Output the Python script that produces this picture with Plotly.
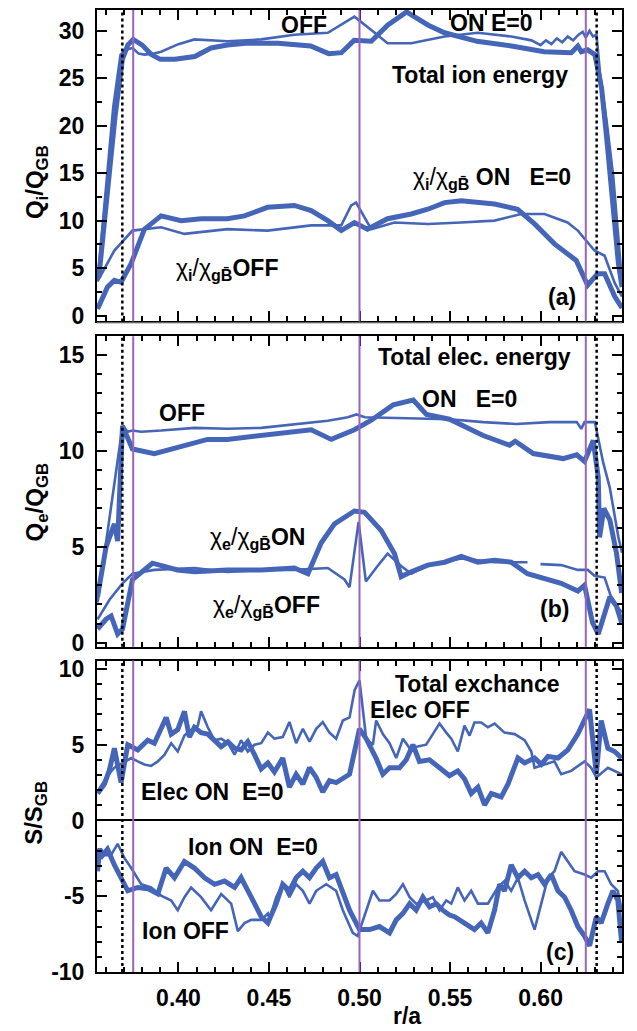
import plotly.graph_objects as go

# ---------------- data ----------------
# Panel (a): ion energy flux
ion_total_on = [(0.3560, 4.0), (0.3600, 12.0), (0.3650, 21.0), (0.3690, 27.0), (0.3720, 28.5), (0.3750, 29.1),
                (0.3800, 28.5), (0.3850, 27.5), (0.3900, 27.0), (0.3980, 27.0), (0.4090, 27.3), (0.4180, 28.2),
                (0.4270, 28.5), (0.4370, 28.7), (0.4550, 28.7), (0.4730, 28.4), (0.4830, 27.6), (0.4900, 27.7),
                (0.4970, 29.0), (0.5065, 28.9), (0.5155, 30.6), (0.5260, 32.0), (0.5380, 30.6), (0.5470, 29.8),
                (0.5650, 28.9), (0.5840, 28.4), (0.6020, 27.8), (0.6170, 27.7), (0.6206, 28.4), (0.6225, 27.8),
                (0.6260, 28.0), (0.6300, 27.5), (0.6337, 24.0), (0.6365, 18.8), (0.6402, 11.7), (0.6430, 5.5),
                (0.6450, 3.0)]
ion_total_off = [(0.3553, 3.6), (0.3600, 14.0), (0.3640, 22.0), (0.3680, 27.5), (0.3710, 28.0), (0.3746, 28.2),
                 (0.3780, 27.6), (0.3812, 27.5), (0.3860, 27.6), (0.3904, 27.8), (0.4000, 28.6), (0.4088, 29.1),
                 (0.4270, 28.9), (0.4457, 29.1), (0.4640, 29.6), (0.4825, 29.8), (0.4972, 31.5), (0.5065, 30.1),
                 (0.5155, 28.7), (0.5286, 28.7), (0.5470, 29.4), (0.5653, 29.8), (0.5838, 29.4), (0.5950, 29.0),
                 (0.6000, 28.5), (0.6030, 29.0), (0.6060, 28.6), (0.6090, 29.2), (0.6120, 28.8), (0.6150, 29.4),
                 (0.6180, 29.0), (0.6210, 29.6), (0.6233, 29.9), (0.6250, 29.3), (0.6270, 30.0), (0.6290, 29.4),
                 (0.6309, 29.6), (0.6328, 25.7), (0.6365, 20.5), (0.6402, 14.6), (0.6430, 8.3), (0.6450, 3.5)]
chi_i_on = [(0.3553, 0.7), (0.3608, 3.0), (0.3646, 3.7), (0.3683, 3.5), (0.3739, 5.5), (0.3812, 9.1),
            (0.3904, 10.5), (0.4015, 10.0), (0.4125, 10.2), (0.4270, 10.2), (0.4365, 10.5), (0.4492, 11.4),
            (0.4640, 11.6), (0.4733, 11.05), (0.4825, 10.0), (0.4899, 8.95), (0.4972, 9.8), (0.5044, 9.1),
            (0.5155, 10.2), (0.5286, 10.7), (0.5377, 11.2), (0.5470, 11.9), (0.5562, 12.1), (0.5653, 11.9),
            (0.5746, 11.75), (0.5873, 11.2), (0.5967, 9.65), (0.6077, 7.55), (0.6197, 5.8), (0.6260, 3.2),
            (0.6315, 4.4), (0.6354, 4.4), (0.6410, 2.0), (0.6450, 0.8)]
chi_i_off = [(0.3553, 3.6), (0.3646, 6.85), (0.3746, 8.95), (0.3904, 9.3), (0.4033, 8.6), (0.4270, 9.1),
             (0.4492, 8.95), (0.4733, 9.5), (0.4899, 9.5), (0.4954, 11.6), (0.4981, 11.9), (0.5010, 10.9),
             (0.5065, 9.1), (0.5193, 9.8), (0.5377, 9.65), (0.5562, 9.8), (0.5746, 10.0), (0.5893, 10.7),
             (0.6022, 10.7), (0.6149, 9.8), (0.6206, 8.95), (0.6298, 6.85), (0.6354, 6.3), (0.6410, 3.4),
             (0.6450, 2.0)]

# Panel (b): electron energy flux
elec_total_on = [(0.3553, 2.4), (0.3600, 5.0), (0.3646, 6.2), (0.3664, 5.3), (0.3691, 11.3), (0.3746, 10.1),
                 (0.3867, 9.86), (0.3994, 10.2), (0.4088, 10.4), (0.4160, 10.6), (0.4270, 10.6), (0.4457, 10.8),
                 (0.4640, 11.0), (0.4733, 11.1), (0.4844, 10.6), (0.4972, 11.1), (0.5065, 11.6), (0.5186, 12.4),
                 (0.5297, 12.65), (0.5370, 11.9), (0.5497, 11.65), (0.5683, 10.8), (0.5829, 10.3), (0.5860, 10.5),
                 (0.5960, 9.86), (0.6125, 9.6), (0.6200, 9.8), (0.6243, 9.45), (0.6291, 10.55), (0.6319, 8.6),
                 (0.6326, 5.5), (0.6350, 7.0), (0.6383, 6.4), (0.6420, 4.65), (0.6448, 2.6)]
elec_total_off = [(0.3553, 2.1), (0.3600, 5.2), (0.3650, 8.5), (0.3691, 11.3), (0.3719, 11.0), (0.3746, 11.06),
                  (0.3794, 11.0), (0.3904, 11.06), (0.4088, 11.2), (0.4270, 11.15), (0.4457, 11.2), (0.4640, 11.4),
                  (0.4825, 11.57), (0.4935, 11.75), (0.4983, 11.9), (0.5030, 11.75), (0.5297, 11.7), (0.5497, 11.65),
                  (0.5683, 11.5), (0.5866, 11.4), (0.6050, 11.5), (0.6200, 11.5), (0.6225, 11.15), (0.6243, 11.5),
                  (0.6300, 11.5), (0.6346, 9.4), (0.6383, 8.07), (0.6430, 5.5), (0.6450, 4.7)]
chi_e_on = [(0.3553, 0.72), (0.3600, 1.23), (0.3628, 1.4), (0.3664, 0.46), (0.3691, 0.72), (0.3746, 3.3),
            (0.3856, 4.15), (0.3994, 3.8), (0.4088, 3.7), (0.4270, 3.8), (0.4457, 3.8), (0.4640, 3.9),
            (0.4715, 3.6), (0.4788, 5.2), (0.4862, 6.2), (0.4972, 6.87), (0.5028, 6.8), (0.5120, 5.85),
            (0.5193, 4.65), (0.5230, 3.45), (0.5286, 3.7), (0.5377, 4.05), (0.5470, 4.2), (0.5562, 4.5),
            (0.5653, 4.2), (0.5746, 4.3), (0.5838, 4.2), (0.5928, 3.6), (0.6114, 3.1), (0.6206, 2.7),
            (0.6243, 3.0), (0.6287, 1.06), (0.6319, 0.46), (0.6383, 2.4), (0.6420, 1.9), (0.6448, 1.05)]
chi_e_off = [(0.3553, 1.23), (0.3620, 2.26), (0.3691, 3.1), (0.3746, 3.6), (0.3867, 3.8), (0.4088, 3.9),
             (0.4270, 3.7), (0.4457, 3.8), (0.4640, 3.8), (0.4825, 3.9), (0.4917, 3.3), (0.4945, 2.9),
             (0.4995, 6.3), (0.5035, 3.2), (0.5100, 4.0), (0.5155, 4.65), (0.5230, 4.0), (0.5286, 3.6),
             (0.5377, 4.05), (0.5562, 4.4), (0.5746, 4.2), (0.5928, 4.2), (0.5960, None), (0.6000, 4.1),
             (0.6114, 4.05), (0.6206, 3.8), (0.6261, 3.8), (0.6298, 3.5), (0.6354, 3.4), (0.6400, 2.1),
             (0.6450, 1.6)]

# Panel (c): energy exchange
exch_elec_on = [(0.3553, 1.78), (0.3591, 2.4), (0.3618, 3.3), (0.3646, 4.76), (0.3683, 2.5), (0.3720, 5.0),
                (0.3775, 4.66), (0.3830, 5.3), (0.3867, 5.1), (0.3904, 6.0), (0.3932, 6.8), (0.3960, 5.7),
                (0.3996, 6.0), (0.4033, 7.2), (0.4060, 5.5), (0.4088, 6.15), (0.4125, 5.8), (0.4162, 5.7),
                (0.4199, 5.3), (0.4236, 4.87), (0.4273, 5.2), (0.4310, 4.76), (0.4346, 4.66), (0.4383, 5.2),
                (0.4420, 4.34), (0.4457, 3.4), (0.4494, 3.8), (0.4530, 3.2), (0.4576, 4.12), (0.4613, 2.2),
                (0.4650, 3.05), (0.4687, 2.4), (0.4724, 3.48), (0.4761, 2.84), (0.4797, 1.88), (0.4834, 2.63),
                (0.4871, 2.5), (0.4908, 2.74), (0.4945, 3.05), (0.5000, 6.05), (0.5037, 5.4), (0.5092, 4.1),
                (0.5129, 3.05), (0.5166, 3.48), (0.5221, 3.48), (0.5258, 4.0), (0.5295, 5.0), (0.5331, 3.9),
                (0.5387, 4.0), (0.5442, 3.48), (0.5497, 2.95), (0.5543, 3.27), (0.5580, 2.74), (0.5617, 1.78),
                (0.5654, 2.2), (0.5691, 1.03), (0.5728, 1.78), (0.5783, 1.56), (0.5820, 2.4), (0.5875, 4.12),
                (0.5912, 3.8), (0.5967, 4.12), (0.6004, 3.7), (0.6041, 4.23), (0.6096, 4.12), (0.6151, 4.66),
                (0.6206, 5.7), (0.6271, 7.33), (0.6308, 3.05), (0.6335, 6.6), (0.6372, 4.76), (0.6409, 4.55),
                (0.6448, 4.12)]
exch_elec_off = [(0.3553, 1.9), (0.3608, 2.95), (0.3646, 3.48), (0.3702, 3.9), (0.3739, 4.12), (0.3775, 3.9),
                 (0.3812, 3.7), (0.3849, 3.6), (0.3886, 3.9), (0.3923, 4.34), (0.3960, 5.1), (0.3996, 4.55),
                 (0.4033, 5.6), (0.4051, 5.8), (0.4107, 6.26), (0.4125, 7.2), (0.4162, 6.15), (0.4199, 5.3),
                 (0.4236, 5.4), (0.4273, 5.1), (0.4310, 4.34), (0.4346, 5.3), (0.4383, 4.55), (0.4420, 5.0),
                 (0.4457, 5.1), (0.4494, 5.8), (0.4530, 5.4), (0.4576, 5.5), (0.4613, 6.5), (0.4650, 5.1),
                 (0.4687, 6.05), (0.4724, 5.2), (0.4761, 6.05), (0.4797, 6.5), (0.4834, 5.8), (0.4871, 5.4),
                 (0.4908, 6.6), (0.4945, 6.8), (0.4973, 8.6), (0.5000, 9.25), (0.5037, 5.4), (0.5074, 5.0),
                 (0.5092, 6.6), (0.5129, 5.7), (0.5166, 5.1), (0.5203, 4.12), (0.5240, 5.4), (0.5277, 4.76),
                 (0.5313, 4.87), (0.5368, 5.0), (0.5405, 5.7), (0.5442, 6.4), (0.5479, 5.8), (0.5507, 5.4),
                 (0.5543, 4.55), (0.5580, 6.26), (0.5608, 5.6), (0.5635, 6.47), (0.5672, 6.47), (0.5709, 6.15),
                 (0.5746, 6.4), (0.5801, 5.8), (0.5857, 5.7), (0.5912, 5.3), (0.5949, 4.55), (0.5967, 3.48),
                 (0.6022, 3.7), (0.6077, 3.9), (0.6114, 3.05), (0.6169, 3.27), (0.6243, 3.9), (0.6280, 3.48),
                 (0.6308, 2.84), (0.6372, 3.48), (0.6448, 3.05)]
exch_ion_on = [(0.3553, -3.35), (0.3565, -1.86), (0.3581, -2.29), (0.3608, -1.9), (0.3646, -2.93), (0.3683, -3.78),
               (0.3720, -4.64), (0.3775, -4.42), (0.3830, -4.5), (0.3886, -4.85), (0.3932, -3.14), (0.3978, -3.78),
               (0.4033, -2.71), (0.4088, -3.14), (0.4144, -3.78), (0.4199, -4.21), (0.4254, -4.0), (0.4310, -4.42),
               (0.4346, -3.78), (0.4402, -5.06), (0.4457, -6.35), (0.4494, -6.77), (0.4540, -5.49), (0.4576, -4.21),
               (0.4613, -4.64), (0.4650, -3.78), (0.4687, -3.35), (0.4724, -3.78), (0.4761, -3.14), (0.4797, -2.71),
               (0.4834, -3.78), (0.4871, -3.57), (0.4908, -4.64), (0.4945, -5.92), (0.5000, -7.2), (0.5055, -7.2),
               (0.5110, -7.0), (0.5166, -7.42), (0.5203, -6.56), (0.5240, -6.13), (0.5277, -5.49), (0.5313, -5.92),
               (0.5350, -5.06), (0.5387, -5.7), (0.5424, -5.49), (0.5460, -5.92), (0.5497, -6.24), (0.5525, -6.35),
               (0.5580, -6.77), (0.5635, -7.2), (0.5672, -6.77), (0.5709, -7.42), (0.5746, -5.92), (0.5774, -4.21),
               (0.5801, -4.64), (0.5838, -2.93), (0.5875, -3.78), (0.5912, -3.35), (0.5949, -3.78), (0.5986, -3.57),
               (0.6022, -4.21), (0.6059, -3.57), (0.6096, -4.64), (0.6133, -5.06), (0.6169, -5.92), (0.6206, -7.0),
               (0.6243, -7.63), (0.6271, -8.27), (0.6308, -6.35), (0.6335, -6.77), (0.6372, -5.49), (0.6400, -4.64),
               (0.6427, -5.27), (0.6448, -8.06)]
exch_ion_off = [(0.3553, -1.86), (0.3591, -2.29), (0.3627, -2.29), (0.3664, -1.54), (0.3702, -2.5), (0.3739, -3.14),
                (0.3794, -4.21), (0.3849, -4.42), (0.3904, -4.96), (0.3960, -5.28), (0.3996, -5.92), (0.4033, -5.06),
                (0.4070, -4.42), (0.4125, -5.06), (0.4180, -5.92), (0.4236, -4.85), (0.4291, -5.49), (0.4328, -7.3),
                (0.4365, -6.77), (0.4402, -6.56), (0.4457, -6.56), (0.4494, -6.13), (0.4503, -6.5), (0.4540, -5.06),
                (0.4576, -4.21), (0.4613, -5.06), (0.4650, -4.21), (0.4687, -4.64), (0.4724, -5.49), (0.4761, -4.64),
                (0.4816, -4.21), (0.4871, -4.64), (0.4908, -5.92), (0.4963, -7.42), (0.4990, -7.63), (0.5037, -5.92),
                (0.5074, -4.64), (0.5110, -5.28), (0.5166, -5.28), (0.5203, -4.85), (0.5240, -4.21), (0.5277, -5.06),
                (0.5313, -5.49), (0.5368, -5.28), (0.5405, -5.06), (0.5442, -5.92), (0.5479, -5.28), (0.5507, -5.49),
                (0.5543, -4.42), (0.5580, -5.28), (0.5617, -4.64), (0.5654, -5.49), (0.5709, -5.49), (0.5764, -4.42),
                (0.5801, -4.0), (0.5838, -4.64), (0.5875, -3.78), (0.5912, -5.28), (0.5949, -6.56), (0.5967, -7.2),
                (0.6004, -5.49), (0.6041, -3.78), (0.6077, -3.35), (0.6114, -2.07), (0.6151, -2.71), (0.6188, -3.35),
                (0.6243, -3.57), (0.6280, -3.78), (0.6317, -3.35), (0.6354, -3.35), (0.6390, -4.21), (0.6427, -4.64),
                (0.6448, -5.92)]

purple_lines = [0.375, 0.50, 0.625]
dotted_lines = [0.369, 0.631]

x_ticks = [0.40, 0.45, 0.50, 0.55, 0.60]
ya_ticks = [0, 5, 10, 15, 20, 25, 30]
yb_ticks = [0, 5, 10, 15]
yc_ticks = [-10, -5, 0, 5, 10]

# ---------------- styling ----------------
BLUE = "#4566b8"
PURPLE = "#9a63bd"
FONT = "Liberation Sans"
THIN, THICK = 2.6, 5.0

fig = go.Figure()


def add(series, width, ax):
    xs = [p[0] for p in series]
    ys = [p[1] for p in series]
    fig.add_trace(go.Scatter(x=xs, y=ys, mode="lines", xaxis="x" + ax, yaxis="y" + ax,
                             line=dict(color=BLUE, width=width), connectgaps=False,
                             showlegend=False, hoverinfo="skip"))


add(ion_total_off, THIN, "")
add(ion_total_on, THICK, "")
add(chi_i_off, THIN, "")
add(chi_i_on, THICK, "")
add(elec_total_off, THIN, "2")
add(elec_total_on, THICK, "2")
add(chi_e_off, THIN, "2")
add(chi_e_on, THICK, "2")
add(exch_elec_off, THIN, "3")
add(exch_elec_on, THICK, "3")
add(exch_ion_off, THIN, "3")
add(exch_ion_on, THICK, "3")

# plot area: px 97..622 horizontally, 5..972 vertically
H = 967.0
def py2paper(py):
    return (972.0 - py) / H

domains = {"": [py2paper(318), py2paper(5)],
           "2": [py2paper(645), py2paper(333)],
           "3": [py2paper(972), py2paper(659)]}
yranges = {"": [-0.62, 32.2], "2": [-0.2, 15.97], "3": [-10.0, 10.55]}
yticks = {"": ya_ticks, "2": yb_ticks, "3": yc_ticks}
yminor = {"": 2.5, "2": 1, "3": 1}

tickfont = dict(family=FONT, size=23, color="black", weight="bold")
axis_common = dict(showline=True, linecolor="black", linewidth=2, mirror="allticks",
                   ticks="inside", ticklen=10, tickwidth=2, tickcolor="black",
                   showgrid=False, zeroline=False, tickfont=tickfont)

layout = dict(width=637, height=1031, margin=dict(l=97, r=15, t=5, b=59),
              paper_bgcolor="white", plot_bgcolor="white",
              font=dict(family=FONT, size=23, color="black"), showlegend=False)

for ax in ["", "2", "3"]:
    layout["xaxis" + ax] = dict(axis_common, range=[0.355, 0.645], domain=[0, 1],
                                anchor="y" + ax, tickvals=x_ticks,
                                ticktext=["%.2f" % v for v in x_ticks],
                                showticklabels=(ax == "3"), ticklabelstandoff=4,
                                minor=dict(ticks="inside", dtick=0.01, tick0=0.36, ticklen=5,
                                           tickwidth=1.5, tickcolor="black"))
    layout["yaxis" + ax] = dict(axis_common, range=yranges[ax], domain=domains[ax],
                                anchor="x" + ax, tickvals=yticks[ax],
                                ticktext=[str(v) for v in yticks[ax]],
                                ticklabelstandoff=6,
                                minor=dict(ticks="inside", dtick=yminor[ax], tick0=0, ticklen=5,
                                           tickwidth=1.5, tickcolor="black"))
layout["yaxis3"]["zeroline"] = True
layout["yaxis3"]["zerolinecolor"] = "black"
layout["yaxis3"]["zerolinewidth"] = 2

shapes = []
for ax in ["", "2", "3"]:
    for xv in purple_lines:
        shapes.append(dict(type="line", xref="x" + ax, yref="y" + ax + " domain", x0=xv, x1=xv,
                           y0=0, y1=1, line=dict(color=PURPLE, width=2), layer="above"))
    for xv in dotted_lines:
        shapes.append(dict(type="line", xref="x" + ax, yref="y" + ax + " domain", x0=xv, x1=xv,
                           y0=0, y1=1, line=dict(color="black", width=2.5, dash="dot"), layer="above"))
shapes.append(dict(type="line", xref="paper", yref="paper", x0=0, x1=1, y0=py2paper(320), y1=py2paper(320),
                   line=dict(color="#cccccc", width=1.5)))
layout["shapes"] = shapes

B = dict(family=FONT, size=23, color="black", weight="bold")
R = dict(family=FONT, size=23, color="black", weight="normal")
NB = "\u00a0"
BAR = "\u0304"

def ann(text, x, y, ax, font=B):
    return dict(text=text, x=x, y=y, xref="x" + ax, yref="y" + ax, showarrow=False,
                xanchor="center", yanchor="middle", font=font)

def chi(sub, tail):
    return ("χ<sub><b>%s</b></sub>/χ<sub><b>gB%s</b></sub><b>%s</b>" % (sub, BAR, tail))

annotations = [
    ann("OFF", 0.4696, 30.6, ""),
    ann("ON E=0", 0.5729, 30.8, ""),
    ann("Total ion energy", 0.5663, 25.4, ""),
    ann(chi("i", NB + "ON" + NB * 3 + "E=0"), 0.573, 14.4, "", R),
    ann(chi("i", "OFF"), 0.427, 4.8, "", R),
    ann("(a)", 0.612, 2.0, ""),
    ann("Total elec. energy", 0.5633, 14.9, "2"),
    ann("ON" + NB * 3 + "E=0", 0.561, 12.7, "2"),
    ann("OFF", 0.402, 12.0, "2"),
    ann(chi("e", "ON"), 0.4437, 5.44, "2", R),
    ann(chi("e", "OFF"), 0.4485, 1.9, "2", R),
    ann("(b)", 0.6077, 1.75, "2"),
    ann("Total exchance", 0.5648, 9.0, "3"),
    ann("Elec OFF", 0.5333, 7.3, "3"),
    ann("Elec ON" + NB * 2 + "E=0", 0.419, 1.86, "3"),
    ann("Ion ON" + NB * 2 + "E=0", 0.441, -1.73, "3"),
    ann("Ion OFF", 0.404, -7.3, "3"),
    ann("(c)", 0.611, -8.7, "3"),
]
# axis titles
for text, py in [("Q<sub>i</sub>/Q<sub>GB</sub>", 178), ("Q<sub>e</sub>/Q<sub>GB</sub>", 500),
                 ("S/S<sub>GB</sub>", 812)]:
    annotations.append(dict(text=text, xref="paper", yref="paper", x=0, y=py2paper(py), xshift=-61,
                            showarrow=False, textangle=-90, xanchor="center", yanchor="middle",
                            font=dict(family=FONT, size=24, color="black", weight="bold")))
annotations.append(dict(text="r/a", xref="x3", yref="paper", x=0.5265, y=0, yshift=-44, showarrow=False,
                        xanchor="center", yanchor="middle",
                        font=dict(family=FONT, size=23, color="black", weight="bold")))
layout["annotations"] = annotations

fig.update_layout(layout)
fig.write_html("out.html")
